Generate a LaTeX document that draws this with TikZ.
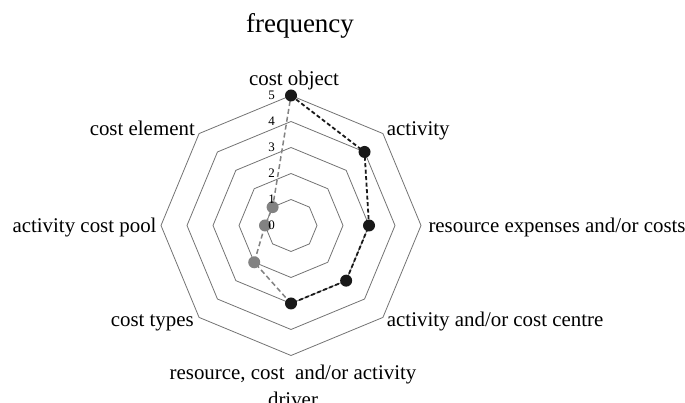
\documentclass[tikz,border=0pt]{standalone}
\usepackage{fontspec}
\setmainfont{Liberation Serif}
\usetikzlibrary{calc,positioning}
\definecolor{ringgray}{RGB}{115,115,115}
\definecolor{seriesgray}{RGB}{130,130,130}

\begin{document}
\begin{tikzpicture}[x=1pt, y=1pt,
    ring/.style={ringgray, line width=0.8pt},
    axislabel/.style={font=\fontsize{20.9}{27}\selectfont, inner sep=0pt},
    titlelabel/.style={font=\fontsize{27}{32}\selectfont, inner sep=0pt},
    ticklabel/.style={font=\fontsize{13}{15}\selectfont, inner sep=0pt},
    blackline/.style={black!90, line width=1.8pt, dash pattern=on 4pt off 2.5pt},
    grayline/.style={seriesgray, line width=1.5pt, dash pattern=on 5pt off 3pt}]
    \useasboundingbox (0,0) rectangle (685,403);

    % --- Centre of the chart ---
    \coordinate (c) at (291,177.5);

    % --- Grid octagons ---
    \foreach \k in {1,...,5}
      \draw[ring] ($(c)+(90:26*\k)$)
        \foreach \a in {45,0,-45,-90,-135,180,135} { -- ($(c)+(\a:26*\k)$) } -- cycle;

    % --- Data points ---
    \coordinate (p1) at ($(c)+(90:130)$);
    \coordinate (p2) at ($(c)+(45:104)$);
    \coordinate (p3) at ($(c)+(0:78)$);
    \coordinate (p4) at ($(c)+(-45:78)$);
    \coordinate (p5) at ($(c)+(-90:78)$);
    \coordinate (p6) at ($(c)+(-135:52)$);
    \coordinate (p7) at ($(c)+(180:26)$);
    \coordinate (p8) at ($(c)+(135:26)$);

    % --- Dashed series lines ---
    \draw[blackline] (p1) -- (p2) -- (p3) -- (p4) -- (p5);
    \draw[grayline] (p5) -- (p6) -- (p7) -- (p8) -- (p1);

    % --- Markers ---
    \foreach \i in {1,...,5}
      \fill[black!90] (p\i) circle (6);
    \foreach \i in {6,7,8}
      \fill[seriesgray] (p\i) circle (6);

    % --- Scale numbers ---
    \foreach \k in {0,...,5}
      \node[ticklabel] (t\k) at ($(c)+(-19.5,26*\k)$) {\k};

    % --- Title and axis labels ---
    \node[titlelabel, anchor=base] (title) at (300,370) {frequency};
    \node[axislabel, anchor=base] (costobject) at (294,317) {cost object};
    \node[axislabel, anchor=base west] (activity) at (386.7,267) {activity};
    \node[axislabel, anchor=base west] (expenses) at (428.3,170) {resource expenses and/or costs};
    \node[axislabel, anchor=base west] (centre) at (386.7,76) {activity and/or cost centre};
    \node[axislabel, anchor=base] (driver) at (293,23) {resource, cost~ and/or activity};
    \node[axislabel, anchor=base] (driver2) at (293,-4) {driver};
    \node[axislabel, anchor=base east] (costtypes) at (194,76) {cost types};
    \node[axislabel, anchor=base east] (pool) at (156.7,170) {activity cost pool};
    \node[axislabel, anchor=base east] (element) at (195,267) {cost element};
  \end{tikzpicture}
\end{document}
